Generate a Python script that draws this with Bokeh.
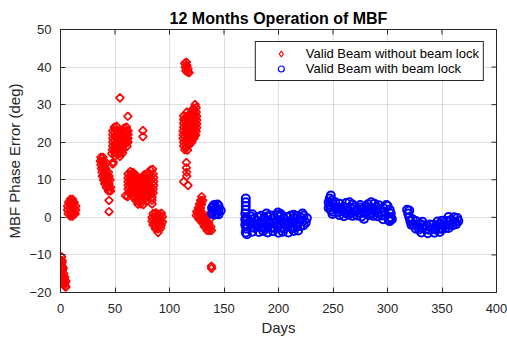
import math
from bokeh.plotting import figure
from bokeh.models import FixedTicker, Range1d, CDSView, IndexFilter
from bokeh.embed import file_html
from bokeh.resources import INLINE

# ---------------- data ----------------
x_ticks = [0, 50, 100, 150, 200, 250, 300, 350, 400]
y_ticks = [-20, -10, 0, 10, 20, 30, 40, 50]

# Valid beam WITHOUT beam lock (red diamonds), by cluster
red_a_day = [1, 1.5, 0.5, 1.5, 0.5, 2, 1, 3, 0.5, 2, 4, 1, 3, 5, 2.5, 4, 5, 4.5, 3.5, 1.5, 2.5, 0.5]
red_a_deg = [-10.5, -11.5, -12.5, -13, -14, -14, -15, -15, -15.5, -16, -16, -16.5, -17, -17, -17.5, -17.5, -18.5, -18.5, -18, -12, -13.5, -11.5]

red_b_day = [9, 11, 7.5, 10, 12.5, 6.5, 9, 11.5, 14, 6.5, 9, 11.5, 14, 7, 9.5, 12, 13.5, 9, 11]
red_b_deg = [4.8, 4.8, 4, 4, 4, 3, 3, 3, 3, 2, 2, 2, 2, 1, 1, 1, 1, 0.3, 0.3]

red_c_day = [37, 39, 36.5, 38.5, 40.5, 37, 39, 41, 37.5, 39.5, 41.5, 38, 40, 42, 44, 38.5, 40.5, 42.5, 44.5,
             39.5, 41.5, 43.5, 45.5, 40.5, 42.5, 44.5, 42, 44, 46, 44, 46, 44.5, 44.5, 48]
red_c_deg = [16, 16, 15, 15, 15, 14, 14, 14, 13, 13, 13, 12, 12, 12, 12, 11, 11, 11, 11,
             10, 10, 10, 10, 9, 9, 9, 8, 8, 8, 7, 7, 4.5, 1.5, 14.2]

red_d_day = [49.5, 51.5, 58.5, 60.5,
             48, 50.5, 53, 55.5, 58, 60.5, 62,
             48, 50.5, 53, 55.5, 58, 60.5, 62,
             48, 50.5, 53, 55.5, 58, 60.5, 62,
             48, 50.5, 53, 55.5, 58, 60.5, 62,
             48, 50.5, 53, 55.5, 58, 61,
             47.5, 50, 52.5, 55, 57.5,
             47, 49.5, 52, 54.5, 57,
             50, 54.5,
             54.5, 61.8, 75.6, 75.6, 48.4]
red_d_deg = [24, 24.2, 23.8, 24,
             23, 23.2, 22.8, 23, 23.1, 22.9, 23,
             22, 21.8, 22.2, 22, 21.9, 22.1, 22,
             21, 21.2, 20.8, 21, 21.1, 20.9, 21,
             20, 19.8, 20.2, 20, 20.1, 19.9, 20,
             19, 19.2, 18.8, 19, 19.1, 18.9,
             18, 18.2, 17.8, 18, 18.1,
             17, 17.2, 16.8, 17, 17.1,
             16.3, 16.2,
             31.8, 26.9, 23.1, 21.5, 14.7]

red_e_day = [64, 66.5, 82.5, 84.5,
             62, 64.5, 67, 69.5, 77, 79.5, 82, 85,
             62, 64.5, 67, 69.5, 72, 74.5, 77, 79.5, 82, 85.5,
             62, 64.5, 67, 69.5, 72, 74.5, 77, 79.5, 82, 85.5,
             62, 64.5, 67, 69.5, 72, 74.5, 77, 79.5, 82, 85.5,
             62, 64.5, 67, 69.5, 72, 74.5, 77, 79.5, 82, 85,
             63, 65.5, 68, 70.5, 73, 75.5, 78, 80.5, 83, 85,
             61.5, 66, 68.5, 71, 73.5, 76, 78.5, 81, 84,
             69, 71.5, 74, 76.5, 79, 84,
             71, 73.5, 76, 84,
             59.7]
red_e_deg = [12.2, 12.0, 12.6, 12.8,
             11.5, 11.3, 11.6, 11.2, 11.4, 11.7, 11.5, 11.6,
             10.5, 10.4, 10.6, 10.3, 10.2, 10.5, 10.6, 10.4, 10.5, 10.6,
             9.5, 9.4, 9.6, 9.5, 9.3, 9.6, 9.5, 9.4, 9.6, 9.5,
             8.5, 8.6, 8.4, 8.5, 8.6, 8.4, 8.5, 8.6, 8.4, 8.5,
             7.5, 7.4, 7.6, 7.5, 7.4, 7.6, 7.5, 7.4, 7.6, 7.5,
             6.5, 6.6, 6.4, 6.5, 6.6, 6.4, 6.5, 6.6, 6.4, 6.5,
             5.5, 5.6, 5.4, 5.5, 5.6, 5.4, 5.5, 5.6, 5.4,
             4.5, 4.4, 4.6, 4.5, 4.4, 4.6,
             3.5, 3.6, 3.4, 3.6,
             5.8]

red_f_day = [85, 87.5, 90, 92.5, 84, 86.5, 89, 91.5, 93.5, 84, 86.5, 89, 91.5, 93.5, 85, 87.5, 90, 92.5, 87, 89.5, 92, 89.5]
red_f_deg = [1, 1.2, 0.9, 1.1, 0, 0.1, -0.1, 0, 0.2, -1, -1.1, -0.9, -1, -1.2, -2, -2.1, -1.9, -2, -3, -3.1, -2.9, -4]

red_g_day = [114, 115.5, 114.5, 116, 117, 115, 116.5, 118, 115.5]
red_g_deg = [41, 41.3, 40, 40.3, 39.5, 39, 38.7, 38.5, 40.5]

red_h_day = [123.5,
             122, 124.5,
             116, 120, 122.5, 124.5,
             113, 115.5, 118, 120.5, 123, 125,
             113, 115.5, 118, 120.5, 123, 125,
             113, 115.5, 118, 120.5, 123, 125,
             113, 115.5, 118, 120.5, 123, 125,
             112.5, 115, 117.5, 120, 122.5, 124.5,
             112.5, 115, 117.5, 120, 122.5, 124,
             112.5, 115, 117.5, 120, 122.5,
             113, 115.5, 118, 120.5,
             113, 115.5, 118,
             114, 116.5,
             115.5, 115.5, 115.8, 115.8, 113, 117, 114]
red_h_deg = [30,
             29, 29.2,
             28, 28.1, 27.9, 28,
             27, 26.8, 27.2, 27, 27.1, 26.9,
             26, 26.2, 25.8, 26, 26.1, 25.9,
             25, 24.8, 25.2, 25, 25.1, 24.9,
             24, 24.2, 23.8, 24, 24.1, 23.9,
             23, 22.8, 23.2, 23, 23.1, 22.9,
             22, 22.2, 21.8, 22, 22.1, 21.9,
             21, 20.8, 21.2, 21, 21.1,
             20, 20.2, 19.8, 20,
             19, 18.8, 19.2,
             18, 17.9,
             14.6, 13.2, 12, 11, 9.5, 8.5, 25.8]

red_i_day = [129.5, 128.5, 130.5, 127.5, 129.5, 126.5, 128.5, 125, 127, 129, 124.5, 126.5, 128.5, 130.5,
             127, 129, 131, 133, 130, 132, 134, 136, 132, 134, 136, 138, 134.5, 136.5, 138.5, 135, 137, 137,
             138.4, 138.6]
red_i_deg = [5.5, 4.5, 4.5, 3.5, 3.5, 2.5, 2.5, 1.5, 1.5, 1.5, 0.5, 0.5, 0.5, 0.5,
             -0.5, -0.5, -0.5, -0.5, -1.5, -1.5, -1.5, -1.5, -2.5, -2.5, -2.5, -2.5, -3.5, -3.5, -3.5, 0.5, -0.5, 0.8,
             -13, -13.6]

# Valid beam WITH beam lock (blue circles), by cluster
blue_a_day = [139, 139, 141, 141, 141, 143, 143, 145, 145, 145, 147, 142, 144, 140]
blue_a_deg = [1, 2.5, 0.7, 2, 3.3, 1, 2.5, 0.8, 2, 3, 1.8, 1.8, 3.4, 3]

blue_b_day = [170, 170, 170, 170, 169.5, 170.5, 170, 169.5, 170.5, 170, 171, 169.5, 170.5,
              176, 189, 199.5, 202, 214, 222,
              175, 178, 181, 184, 187, 190, 193, 196, 199, 202, 205, 208, 211, 214, 217, 220, 223, 226,
              174, 177, 180, 183, 186, 189, 192, 195, 198, 201, 204, 207, 210, 213, 216, 219, 222, 225,
              175, 178, 181, 184, 187, 190, 193, 196, 199, 202, 205, 208, 211, 214, 217, 220, 223,
              176, 182, 186, 190, 195, 200, 204, 209, 214, 218]
blue_b_deg = [5, 4, 3, 2, 1, 0, -1, -2, -3, -4, -4.5, -0.5, -1.8,
              0.8, 1.0, 1.3, 0.9, 0.7, 1.0,
              0.2, -0.3, 0.1, 0.4, -0.2, 0.3, 0.5, -0.1, 0.6, 0.2, -0.3, 0.1, 0.4, -0.2, 0.3, 0.0, 0.5, -0.2,
              -1.2, -1.5, -1.0, -1.4, -1.6, -1.1, -1.3, -1.5, -1.0, -1.4, -1.2, -1.6, -1.1, -1.3, -1.5, -1.2, -1.0, -1.4,
              -2.5, -2.8, -2.4, -2.7, -2.9, -2.5, -2.6, -2.8, -2.4, -2.7, -3.0, -2.5, -2.6, -2.8, -2.4, -2.3, -2.1,
              -3.8, -3.9, -3.6, -4.0, -3.7, -4.1, -3.8, -4.0, -3.6, -3.5]

blue_c_day = [246, 247, 248, 249, 250, 246, 248, 250, 249.5, 252, 252, 247,
              256, 262, 265, 268, 275, 282, 285, 288, 292, 299,
              254, 257, 260, 263, 266, 269, 272, 275, 278, 281, 284, 287, 290, 293, 296,
              255, 258, 261, 264, 267, 270, 273, 276, 279, 282, 285, 288, 291, 294, 297,
              256, 260, 264, 268, 272, 276, 283, 287, 291, 295, 298,
              278.5, 296, 300, 302, 303, 303, 302, 304, 301]
blue_c_deg = [4, 5, 5.8, 4.5, 3.5, 2.5, 2, 1.5, 0.9, 4, 2.5, 3.3,
              3.6, 3.8, 4.0, 3.4, 3.3, 3.5, 4.0, 3.6, 3.2, 3.3,
              2.6, 2.3, 2.8, 2.5, 2.4, 2.7, 2.2, 2.6, 2.3, 2.8, 2.5, 2.4, 2.7, 2.2, 2.5,
              1.4, 1.7, 1.3, 1.6, 1.2, 1.5, 1.8, 1.1, 1.4, 1.6, 1.3, 1.7, 1.2, 1.5, 1.4,
              0.6, 0.3, 0.7, 0.4, 0.5, 0.2, 0.6, 0.4, 0.3, 0.5, 0.6,
              -0.4, -0.5, 3.0, 2.0, 1.0, 0.0, -1.0, -0.5, -0.6]

blue_d_day = [318, 319, 320, 321, 322, 320, 323,
              326, 332, 346, 350, 354, 358, 362, 365, 361, 364, 356,
              324, 327, 330, 333, 336, 339, 342, 345, 348, 351, 354, 357, 360, 363,
              326, 329, 332, 335, 338, 341, 344, 347, 350, 353, 356,
              331, 337, 343, 348]
blue_d_deg = [2, 1, 0, -1, -2, 1.8, -0.5,
              -1.0, -1.2, -1.1, -0.9, -1.0, -0.8, -1.2, -1.0, 0.0, -0.2, 0.1,
              -2.0, -2.2, -1.8, -2.1, -2.3, -1.9, -2.0, -2.2, -1.8, -2.1, -2.0, -1.9, -2.1, -1.8,
              -3.0, -3.2, -2.8, -3.1, -3.3, -2.9, -3.2, -3.0, -3.1, -2.9, -2.8,
              -4.0, -4.2, -4.1, -3.9]

red_days = red_a_day + red_b_day + red_c_day + red_d_day + red_e_day + red_f_day + red_g_day + red_h_day + red_i_day
red_vals = red_a_deg + red_b_deg + red_c_deg + red_d_deg + red_e_deg + red_f_deg + red_g_deg + red_h_deg + red_i_deg
blue_days = blue_a_day + blue_b_day + blue_c_day + blue_d_day
blue_vals = blue_a_deg + blue_b_deg + blue_c_deg + blue_d_deg

# one point deep inside a dense cluster of each series, used only as the legend sample
red_legend_idx = len(red_a_day) + len(red_b_day) + len(red_c_day) + 15
blue_legend_idx = len(blue_a_day) + 40

# ---------------- figure ----------------
FONT = "Liberation Sans"
AX = "#262626"

p = figure(width=507, height=338, output_backend="svg", toolbar_location=None,
           x_range=Range1d(0, 400), y_range=Range1d(-20, 50),
           min_border_left=60, min_border_right=11, min_border_top=29, min_border_bottom=46,
           title="12 Months Operation of MBF")
p.title.align = "center"
p.title.text_font = FONT
p.title.text_font_size = "16px"
p.title.text_font_style = "bold"
p.title.text_color = "#000000"
p.title.standoff = 5

p.background_fill_color = "white"
p.border_fill_color = "white"
p.outline_line_color = AX
p.outline_line_width = 1
p.outline_line_alpha = 1

p.xaxis.ticker = FixedTicker(ticks=x_ticks)
p.yaxis.ticker = FixedTicker(ticks=y_ticks)
for ax in (p.xaxis[0], p.yaxis[0]):
    ax.major_tick_in = 5
    ax.major_tick_out = 0
    ax.minor_tick_line_color = None
    ax.major_tick_line_color = AX
    ax.axis_line_color = AX
    ax.major_label_text_font = FONT
    ax.major_label_text_font_size = "13px"
    ax.major_label_text_color = AX
    ax.axis_label_text_font = FONT
    ax.axis_label_text_font_size = "15px"
    ax.axis_label_text_font_style = "normal"
    ax.axis_label_text_color = AX

p.xaxis.axis_label = "Days"
p.xaxis.major_label_standoff = 11
p.xaxis.axis_label_standoff = 3
p.yaxis.axis_label = "MBF Phase Error (deg)"
p.yaxis.major_label_standoff = 9
p.yaxis.axis_label_standoff = 3

p.grid.grid_line_color = AX
p.grid.grid_line_alpha = 0.15

# box ticks on the top and right edges (half of each dash is clipped by the frame)
p.scatter(x_ticks, [y_ticks[-1]] * len(x_ticks), marker="dash", angle=math.pi / 2,
          size=10, line_color=AX, line_width=1)
p.scatter([x_ticks[-1]] * len(y_ticks), y_ticks, marker="dash",
          size=10, line_color=AX, line_width=1)

# legend samples (drawn first, hidden underneath the dense clusters)
p.scatter(red_days, red_vals, marker="diamond", size=10, fill_color=None, line_color="#ff0000",
          line_width=1.2, legend_label="Valid Beam without beam lock",
          view=CDSView(filter=IndexFilter(indices=[red_legend_idx])))
p.scatter(blue_days, blue_vals, marker="circle", size=9, fill_color=None, line_color="#0000ff",
          line_width=1.2, legend_label="Valid Beam with beam lock",
          view=CDSView(filter=IndexFilter(indices=[blue_legend_idx])))

# MATLAB-style diamond: a square turned by 45 degrees
p.scatter(red_days, red_vals, marker="square", angle=math.pi / 4, size=5.6, fill_color=None,
          line_color="#ff0000", line_width=1.7)
p.scatter(blue_days, blue_vals, marker="circle", size=8, fill_color=None,
          line_color="#0000ff", line_width=2.0)

lg = p.legend[0]
lg.location = "top_right"
lg.margin = 12
lg.padding = 4
lg.spacing = 0
lg.glyph_width = 42
lg.glyph_height = 15
lg.label_height = 15
lg.label_standoff = 4
lg.label_text_font = FONT
lg.label_text_font_size = "13px"
lg.label_text_color = "#000000"
lg.border_line_color = AX
lg.border_line_width = 1
lg.border_line_alpha = 1
lg.background_fill_color = "white"
lg.background_fill_alpha = 1

open("out.html", "w").write(file_html(p, INLINE))
